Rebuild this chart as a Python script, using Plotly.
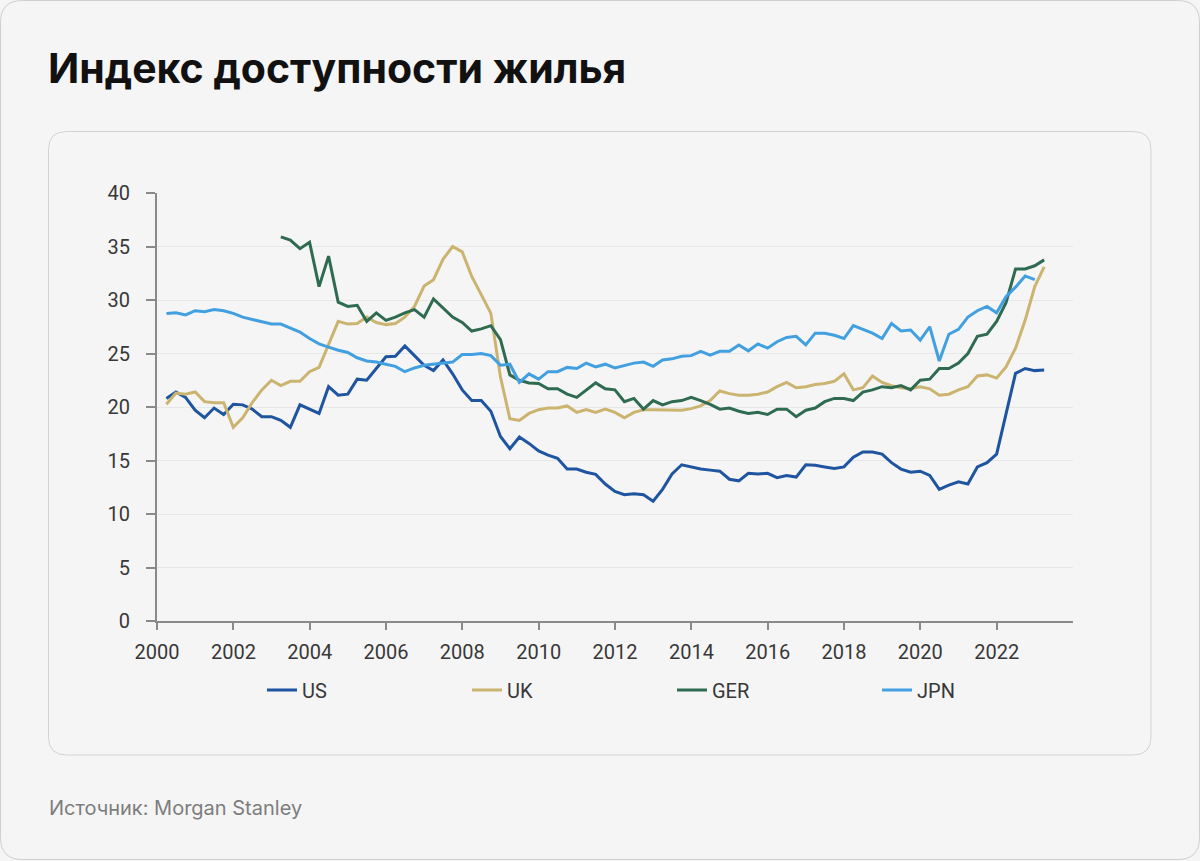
import plotly.graph_objects as go

# ---------------- data (quarterly, 2000Q1 .. 2023Q1) ----------------
start_year = 2000
n_quarters = 93
quarter_ends = ["03-31", "06-30", "09-30", "12-31"]
dates = [f"{start_year + k // 4}-{quarter_ends[k % 4]}" for k in range(n_quarters)]

us = [20.8, 21.4, 20.9, 19.7, 19.0, 19.9, 19.3, 20.25, 20.2, 19.8, 19.1, 19.1,
      18.75, 18.1, 20.2, 19.8, 19.4, 21.9, 21.1, 21.2, 22.6, 22.5, 23.6, 24.7,
      24.75, 25.7, 24.8, 23.9, 23.4, 24.4, 23.1, 21.6, 20.6, 20.6, 19.6, 17.25,
      16.1, 17.2, 16.6, 15.9, 15.5, 15.2, 14.2, 14.2, 13.9, 13.7, 12.8, 12.1,
      11.8, 11.9, 11.8, 11.2, 12.3, 13.75, 14.6, 14.4, 14.2, 14.1, 14.0, 13.25,
      13.1, 13.8, 13.75, 13.8, 13.4, 13.6, 13.45, 14.6, 14.55, 14.4, 14.25, 14.4,
      15.3, 15.8, 15.8, 15.6, 14.8, 14.2, 13.9, 14.0, 13.6, 12.3, 12.7, 13.0,
      12.8, 14.4, 14.8, 15.6, 19.4, 23.15, 23.6, 23.4, 23.45]

uk = [20.25, 21.3, 21.2, 21.4, 20.5, 20.4, 20.4, 18.1, 19.0, 20.4, 21.6, 22.5,
      22.0, 22.4, 22.4, 23.3, 23.7, 25.9, 28.0, 27.75, 27.8, 28.4, 27.9, 27.7,
      27.8, 28.4, 29.4, 31.3, 31.9, 33.8, 35.0, 34.5, 32.2, 30.5, 28.75, 22.8,
      18.9, 18.75, 19.4, 19.75, 19.9, 19.9, 20.1, 19.5, 19.75, 19.5, 19.8, 19.5,
      19.0, 19.5, 19.75, 19.75, 19.75, 19.7, 19.7, 19.85, 20.1, 20.6, 21.5, 21.25,
      21.1, 21.1, 21.2, 21.4, 21.9, 22.3, 21.8, 21.9, 22.1, 22.2, 22.4, 23.1,
      21.6, 21.8, 22.9, 22.3, 22.0, 21.8, 21.7, 21.9, 21.7, 21.1, 21.2, 21.6,
      21.9, 22.9, 23.0, 22.7, 23.75, 25.5, 28.1, 31.25, 33.1]

ger = [None] * 12 + [
      35.9, 35.6, 34.8, 35.4, 31.25, 34.1, 29.8, 29.4, 29.5, 28.0, 28.8, 28.1,
      28.4, 28.8, 29.1, 28.4, 30.1, 29.3, 28.4, 27.9, 27.1, 27.3, 27.6, 26.3,
      23.0, 22.5, 22.25, 22.2, 21.7, 21.7, 21.2, 20.9, 21.6, 22.25, 21.7, 21.6,
      20.5, 20.8, 19.8, 20.6, 20.2, 20.5, 20.6, 20.9, 20.6, 20.25, 19.8, 19.9,
      19.6, 19.4, 19.5, 19.3, 19.8, 19.8, 19.1, 19.7, 19.9, 20.5, 20.8, 20.8,
      20.6, 21.4, 21.6, 21.9, 21.8, 22.0, 21.6, 22.5, 22.6, 23.6, 23.6, 24.1,
      25.0, 26.6, 26.8, 28.0, 29.75, 32.9, 32.9, 33.2, 33.75]

jpn = [28.75, 28.8, 28.6, 29.0, 28.9, 29.1, 29.0, 28.75, 28.4, 28.2, 28.0, 27.75,
       27.75, 27.35, 27.0, 26.4, 25.9, 25.6, 25.3, 25.1, 24.6, 24.3, 24.2, 24.0,
       23.8, 23.3, 23.65, 23.9, 24.0, 24.1, 24.2, 24.9, 24.9, 25.0, 24.8, 23.9,
       24.0, 22.3, 23.1, 22.6, 23.3, 23.3, 23.7, 23.6, 24.1, 23.75, 24.0, 23.65,
       23.9, 24.1, 24.2, 23.8, 24.4, 24.5, 24.75, 24.8, 25.2, 24.85, 25.2, 25.2,
       25.8, 25.25, 25.9, 25.5, 26.1, 26.5, 26.6, 25.8, 26.9, 26.9, 26.7, 26.4,
       27.6, 27.25, 26.9, 26.4, 27.8, 27.1, 27.2, 26.25, 27.5, 24.3, 26.8, 27.25,
       28.4, 29.0, 29.4, 28.8, 30.3, 31.2, 32.25, 31.9]

series_names = ["US", "UK", "GER", "JPN"]
series_values = [us, uk, ger, jpn]
series_colors = ["#1f55a0", "#cbb470", "#2f6b51", "#42a0e0"]

tick_years = list(range(2000, 2023, 2))
y_ticks = list(range(0, 41, 5))

title_text = "Индекс доступности жилья"
source_text = "Источник: Morgan Stanley"

# ---------------- layout geometry ----------------
W, H = 1200, 861
L, R, T, B = 157, 127, 193, 240
PW, PH = W - L - R, H - T - B


def px_x(p):
    return (p - L) / PW


def px_y(p):
    return (H - B - p) / PH


def rounded_rect(x0, y0, x1, y1, r):
    pts = [
        f"M {px_x(x0 + r)},{px_y(y0)}",
        f"L {px_x(x1 - r)},{px_y(y0)}",
        f"Q {px_x(x1)},{px_y(y0)} {px_x(x1)},{px_y(y0 + r)}",
        f"L {px_x(x1)},{px_y(y1 - r)}",
        f"Q {px_x(x1)},{px_y(y1)} {px_x(x1 - r)},{px_y(y1)}",
        f"L {px_x(x0 + r)},{px_y(y1)}",
        f"Q {px_x(x0)},{px_y(y1)} {px_x(x0)},{px_y(y1 - r)}",
        f"L {px_x(x0)},{px_y(y0 + r)}",
        f"Q {px_x(x0)},{px_y(y0)} {px_x(x0 + r)},{px_y(y0)}",
        "Z",
    ]
    return " ".join(pts)


fig = go.Figure()
for name, vals, col in zip(series_names, series_values, series_colors):
    fig.add_trace(go.Scatter(
        x=dates[:len(vals)], y=vals, name=name, mode="lines",
        line=dict(color=col, width=3), connectgaps=False,
    ))

axis_color = "#8a8a8a"
tick_font = dict(family="Roboto, sans-serif", size=20, color="#383838")

fig.update_layout(
    width=W, height=H, autosize=False,
    margin=dict(l=L, r=R, t=T, b=B, pad=0),
    paper_bgcolor="#f5f5f5",
    plot_bgcolor="rgba(0,0,0,0)",
    showlegend=True,
    legend=dict(
        orientation="h", x=px_x(262), xanchor="left", y=px_y(690), yanchor="middle",
        font=dict(family="Roboto, sans-serif", size=20, color="#383838"),
        entrywidthmode="pixels", entrywidth=160, bgcolor="rgba(0,0,0,0)",
    ),
    xaxis=dict(
        type="date", range=["2000-01-01", "2024-01-01"],
        tickvals=[f"{y}-01-01" for y in tick_years],
        ticktext=[str(y) for y in tick_years],
        showgrid=False, zeroline=False,
        showline=True, linecolor=axis_color, linewidth=2,
        ticks="outside", ticklen=7, tickwidth=2, tickcolor=axis_color,
        tickfont=tick_font, ticklabelstandoff=5,
    ),
    yaxis=dict(
        range=[0, 40], tickvals=y_ticks,
        showgrid=True, gridcolor="#e7e7e7", gridwidth=1, zeroline=False,
        showline=True, linecolor=axis_color, linewidth=2,
        ticks="outside", ticklen=9, tickwidth=2, tickcolor=axis_color,
        tickfont=tick_font, ticklabelstandoff=12,
    ),
    shapes=[
        dict(type="path", xref="paper", yref="paper", layer="below",
             path=rounded_rect(0.5, 0.5, 1199.5, 859.5, 22),
             line=dict(color="#cfcfcf", width=1), fillcolor="rgba(0,0,0,0)"),
        dict(type="path", xref="paper", yref="paper", layer="below",
             path=rounded_rect(48.5, 131.5, 1151, 755, 18),
             line=dict(color="#d2d2d2", width=1), fillcolor="rgba(0,0,0,0)"),
    ],
    annotations=[
        dict(text=f"<b>{title_text}</b>", xref="paper", yref="paper",
             x=px_x(46), y=px_y(68), xanchor="left", yanchor="middle",
             showarrow=False, font=dict(family="Inter, sans-serif", size=41, color="#111111")),
        dict(text=source_text, xref="paper", yref="paper",
             x=px_x(47), y=px_y(808), xanchor="left", yanchor="middle",
             showarrow=False, font=dict(family="Inter, sans-serif", size=20, color="#7d7d7d")),
    ],
)

fig.write_html("out.html", include_plotlyjs=True,
               config={"displayModeBar": False},
               post_script="document.body.style.margin='0';document.body.style.overflow='hidden';")
